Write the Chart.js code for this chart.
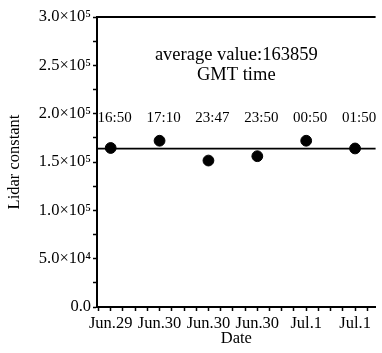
<!DOCTYPE html>
<html>
<head>
<meta charset="utf-8">
<script src="https://cdn.jsdelivr.net/npm/chart.js@4/dist/chart.umd.min.js"></script>
<style>
html,body{margin:0;padding:0;background:#fff;}
#wrap{width:382px;height:353px;}
</style>
</head>
<body>
<div id="wrap"><canvas id="c" width="382" height="353"></canvas></div>
<script>
// ---- data ----
const dates = ["Jun.29", "Jun.30", "Jun.30", "Jun.30", "Jul.1", "Jul.1"];
const times = ["16:50", "17:10", "23:47", "23:50", "00:50", "01:50"];
const lidarConstant = [164500, 172000, 151500, 156000, 172000, 164000];
const averageValue = 163859;
const yTickValues = [0, 50000, 100000, 150000, 200000, 250000, 300000];
const yTickLabels = ["0.0", "5.0×10⁴", "1.0×10⁵", "1.5×10⁵", "2.0×10⁵", "2.5×10⁵", "3.0×10⁵"];
const annotationLines = ["average value:163859", "GMT time"];

const FONT = "'Liberation Serif', 'DejaVu Serif', serif";
const points = lidarConstant.map((v, i) => ({x: i + 1, y: v}));

const overlay = {
  id: 'overlay',
  afterDatasetsDraw(chart) {
    const ctx = chart.ctx;
    const a = chart.chartArea;
    const ys = chart.scales.y;
    ctx.save();
    // top frame line
    ctx.strokeStyle = '#000';
    ctx.lineWidth = 2;
    ctx.beginPath();
    ctx.moveTo(a.left, a.top);
    ctx.lineTo(a.right, a.top);
    ctx.stroke();
    // average line
    const ay = ys.getPixelForValue(averageValue);
    ctx.lineWidth = 1.6;
    ctx.beginPath();
    ctx.moveTo(a.left, ay);
    ctx.lineTo(a.right, ay);
    ctx.stroke();
    // time labels above points
    ctx.fillStyle = '#000';
    ctx.font = "15px " + FONT;
    ctx.textAlign = 'center';
    ctx.textBaseline = 'middle';
    const meta = chart.getDatasetMeta(0);
    const labelY = ys.getPixelForValue(195000);
    meta.data.forEach((el, i) => {
      ctx.fillText(times[i], el.x + 4, labelY);
    });
    // annotation
    ctx.font = "18.5px " + FONT;
    const cx = (a.left + a.right) / 2;
    ctx.fillText(annotationLines[0], cx, a.top + 38);
    ctx.fillText(annotationLines[1], cx, a.top + 58);
    ctx.restore();
  }
};

new Chart(document.getElementById('c'), {
  type: 'scatter',
  data: {
    datasets: [{
      data: points,
      backgroundColor: '#000',
      borderColor: '#000',
      pointRadius: 5.4,
      pointHoverRadius: 5.4,
      showLine: false
    }]
  },
  options: {
    responsive: false,
    animation: false,
    events: [],
    layout: {padding: {top: 17, right: 0, left: 0, bottom: 0}},
    plugins: {legend: {display: false}, tooltip: {enabled: false}},
    scales: {
      x: {
        type: 'linear',
        min: 0.72,
        max: 6.42,
        afterBuildTicks(scale) {
          const t = [];
          for (let v = 0.75; v <= 6.26; v += 0.25) t.push({value: Math.round(v * 100) / 100});
          scale.ticks = t;
        },
        afterFit(scale) { scale.height = 46; },
        border: {display: true, color: '#000', width: 2},
        grid: {drawOnChartArea: false, drawTicks: true, tickLength: 4, color: '#000', tickWidth: 1.5},
        ticks: {
          color: '#000',
          font: {family: FONT, size: 16.5},
          padding: 3,
          maxRotation: 0,
          autoSkip: false,
          callback(v) {
            return Number.isInteger(v) ? dates[v - 1] : '';
          }
        },
        title: {display: true, text: 'Date', color: '#000', font: {family: FONT, size: 16.5}, padding: {top: 0, bottom: 4}}
      },
      y: {
        min: 0,
        max: 300000,
        afterBuildTicks(scale) {
          const t = [];
          for (let v = 0; v <= 300000; v += 25000) t.push({value: v});
          scale.ticks = t;
        },
        afterFit(scale) { scale.width = 97; },
        border: {display: true, color: '#000', width: 2},
        grid: {drawOnChartArea: false, drawTicks: true, tickLength: 4, color: '#000', tickWidth: 1.5},
        ticks: {
          color: '#000',
          font: {family: FONT, size: 16.5},
          padding: 2,
          autoSkip: false,
          callback(v) {
            const k = yTickValues.indexOf(v);
            return k >= 0 ? yTickLabels[k] : '';
          }
        },
        title: {display: true, text: 'Lidar constant', color: '#000', font: {family: FONT, size: 16.5}, padding: {top: 5, bottom: 0}}
      }
    }
  },
  plugins: [overlay]
});
</script>
</body>
</html>
